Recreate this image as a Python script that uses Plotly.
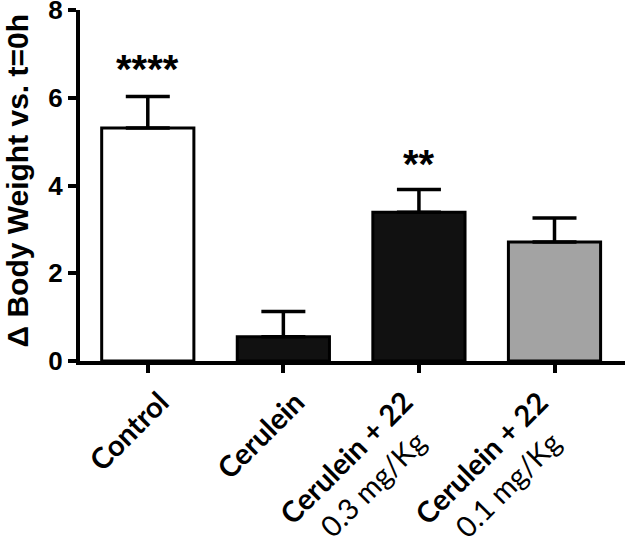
import plotly.graph_objects as go

categories = ["Control", "Cerulein", "Cerulein + 22|0.3 mg/Kg", "Cerulein + 22|0.1 mg/Kg"]
means = [5.31, 0.55, 3.39, 2.71]
sem = [0.72, 0.58, 0.52, 0.55]
colors = ["#ffffff", "#111111", "#111111", "#a3a3a3"]
sig_labels = ["****", "", "**", ""]
sig_y = [6.65, 0, 4.5, 0]
y_ticks = [0, 2, 4, 6, 8]
y_title = "Δ Body Weight vs. t=0h"

def fmt(c):
    parts = c.split("|")
    s = "<b>" + parts[0] + "</b>"
    if len(parts) > 1:
        s += "<br>" + parts[1]
    return s

x = list(range(len(categories)))
fig = go.Figure()
fig.add_trace(go.Bar(
    x=x, y=means, width=0.68,
    marker=dict(color=colors, line=dict(color="#000000", width=3)),
    error_y=dict(type="data", array=sem, arrayminus=[0]*len(sem), symmetric=False,
                 color="#000000", thickness=3.5, width=22),
    showlegend=False,
))
for xi, lab, yy in zip(x, sig_labels, sig_y):
    if lab:
        fig.add_annotation(x=xi, y=yy, text="<b>" + lab + "</b>", showarrow=False,
                           font=dict(family="Liberation Sans, Arial", size=40, color="#000"),
                           yanchor="middle")
for xi, c in zip(x, categories):
    fig.add_annotation(x=xi, xref="x", y=0, yref="paper", text=fmt(c), showarrow=False,
                       textangle=-45, xanchor="right", yanchor="top", align="center",
                       xshift=30, yshift=-20,
                       font=dict(family="Lato, Open Sans", size=29, color="#000"))
fig.add_annotation(x=0, xref="paper", y=0.5, yref="paper", text="<b>" + y_title + "</b>",
                   showarrow=False, textangle=-90, xanchor="center", yanchor="middle",
                   xshift=-63, yshift=5,
                   font=dict(family="Liberation Sans, Arial", size=30, color="#000"))

fig.update_layout(
    width=625, height=549,
    margin=dict(l=80, r=0, t=10, b=188, autoexpand=False),
    plot_bgcolor="white", paper_bgcolor="white",
)
fig.update_xaxes(
    range=[-0.5, 3.52], tickmode="array", tickvals=x, showticklabels=False,
    ticks="outside", ticklen=8, tickwidth=3.5, tickcolor="#000",
    showline=True, linecolor="#000", linewidth=4, showgrid=False, zeroline=False,
    automargin=False,
)
fig.update_yaxes(
    range=[0, 8], tickmode="array", tickvals=y_ticks, ticktext=["<b>%d</b>" % t for t in y_ticks],
    ticks="outside", ticklen=8, tickwidth=3.5, tickcolor="#000",
    showline=True, linecolor="#000", linewidth=4, showgrid=False, zeroline=False,
    tickfont=dict(family="Liberation Sans, Arial", size=26, color="#000"),
    ticklabeloverflow="allow", automargin=False,
)
fig.write_html("out.html", post_script="document.body.style.margin='0px';",
               config={"displayModeBar": False})
